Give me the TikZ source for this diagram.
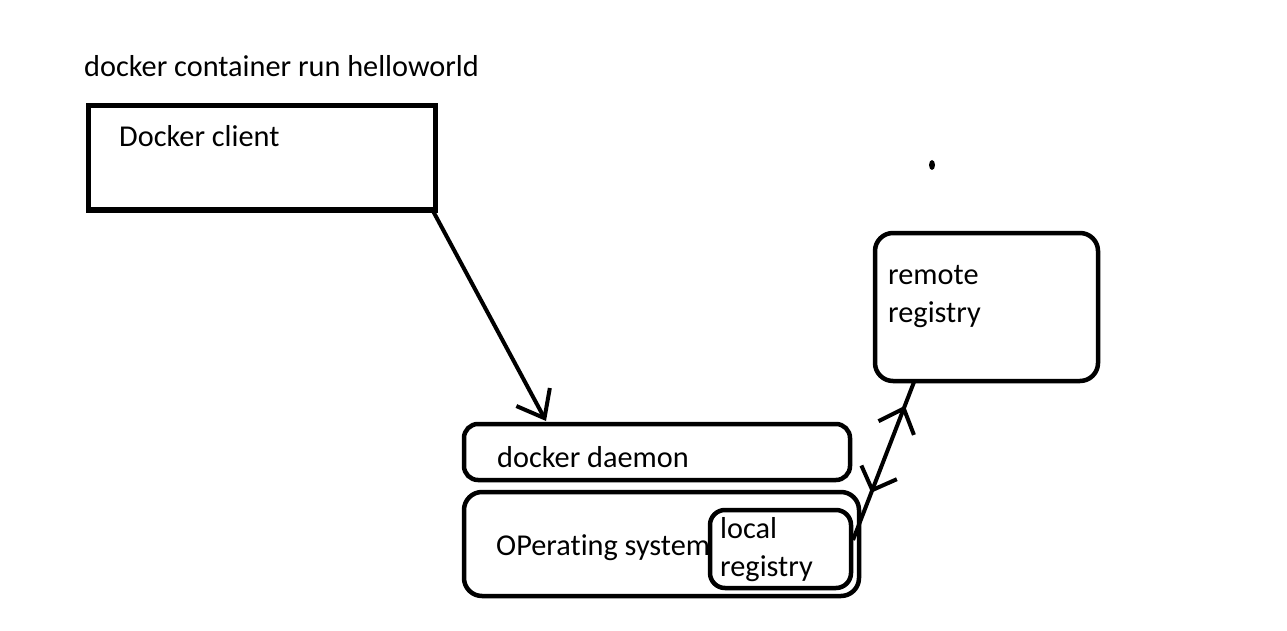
\documentclass[tikz,border=0pt]{standalone}
\usepackage{fontspec}
\setmainfont{Carlito}[Ligatures=NoCommon]
\usetikzlibrary{arrows.meta,calc,decorations.markings}
\begin{document}
\begin{tikzpicture}[x=1pt,y=-1pt,
  box/.style={draw,line width=4.5pt,inner sep=0,outer sep=0},
  txt/.style={anchor=base west,inner sep=0,font=\fontsize{30.3}{38}\selectfont},
  barb/.style={-{Straight Barb[length=24pt,width=38pt]}},
  conn/.style={line width=4pt}]
\useasboundingbox (0,0) rectangle (1287,631);
\fill[white] (0,0) rectangle (1287,631);
% title
\node[txt] (title) at (84,77) {docker container run helloworld};
% docker client
\node[box,line width=5pt,minimum width=347pt,minimum height=104pt] (dc) at (261.5,158) {};
\node[txt] (dct) at (119,147) {Docker client};
% docker daemon
\node[box,rounded corners=14pt,minimum width=386pt,minimum height=56pt] (dm) at (657,452) {};
\node[txt] (dmt) at (497,467) {docker daemon};
% operating system
\node[box,rounded corners=18pt,minimum width=395pt,minimum height=104pt] (os) at (661.5,544) {};
\node[txt] (ost) at (496,555) {OPerating system};
% local registry
\node[box,rounded corners=15pt,minimum width=141pt,minimum height=78pt] (lr) at (780.5,549) {};
\node[txt,align=left] (lrt) at (720,576) {local\\registry};
% remote registry
\node[box,rounded corners=18pt,minimum width=223pt,minimum height=148pt] (rr) at (986.5,307) {};
\node[txt,align=left] (rrt) at (888,322) {remote\\registry};
% dot
\fill (932,165) ellipse (3pt and 5pt);
% arrow client -> daemon
\draw[conn,barb] ($(dc.south east)+(-2,1)$) -- ($(dm.north west)+(82,-3)$);
% double arrow local <-> remote
\draw[conn,postaction={decorate},decoration={markings,
   mark=at position 0.85 with {\arrow[line width=4pt]{Straight Barb[length=21pt,width=38pt]}},
   mark=at position 0.44 with {\arrow[line width=4pt]{Straight Barb[length=19pt,width=38pt,reversed]}}}]
  ($(lr.east)+(2,-9)$) -- ($(rr.south west)+(39,1)$);
\end{tikzpicture}
\end{document}
